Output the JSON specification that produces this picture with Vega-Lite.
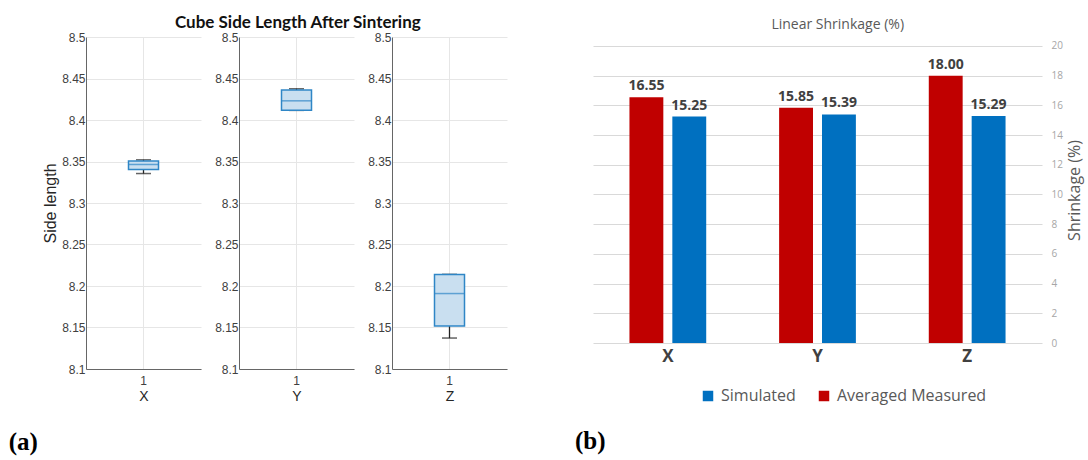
{
  "$schema": "https://vega.github.io/schema/vega-lite/v6.json",
  "background": "white",
  "padding": {"left": 8, "top": 14, "right": 3, "bottom": 2},
  "config": {"view": {"stroke": null}, "font": "Liberation Sans"},
  "datasets": {
    "box": [
      {"dir": "X", "n": "1", "lower": 8.3355, "q1": 8.3404, "median": 8.3464, "q3": 8.3505, "upper": 8.352},
      {"dir": "Y", "n": "1", "lower": 8.4116, "q1": 8.4116, "median": 8.4231, "q3": 8.436, "upper": 8.4376},
      {"dir": "Z", "n": "1", "lower": 8.1373, "q1": 8.1517, "median": 8.1909, "q3": 8.214, "upper": 8.214}
    ],
    "shrink": [
      {"dir": "X", "series": "Averaged Measured", "value": 16.55},
      {"dir": "X", "series": "Simulated", "value": 15.25},
      {"dir": "Y", "series": "Averaged Measured", "value": 15.85},
      {"dir": "Y", "series": "Simulated", "value": 15.39},
      {"dir": "Z", "series": "Averaged Measured", "value": 18.0},
      {"dir": "Z", "series": "Simulated", "value": 15.29}
    ]
  },
  "spacing": 68,
  "hconcat": [
    {
      "title": {"text": "(a)", "orient": "bottom", "anchor": "start", "font": "Liberation Serif", "fontSize": 25, "fontWeight": "bold", "color": "#000000", "dx": -34, "offset": 27},
      "hconcat": [
        {
          "title": {"text": "Cube Side Length After Sintering", "anchor": "middle", "font": "Lato", "fontSize": 17, "fontWeight": "bold", "color": "#111111", "offset": -1, "dx": 23},
          "spacing": 13,
          "hconcat": [
            {
              "width": 115, "height": 332,
              "data": {"name": "box"},
              "transform": [{"filter": "datum.dir === 'X'"}],
              "encoding": {
                "x": {"field": "n", "type": "nominal", "axis": {"title": "X", "labelAngle": 0, "labelFontSize": 12, "labelColor": "#404040", "labelPadding": 6, "titleFontSize": 14, "titleFontWeight": "normal", "titleColor": "#262626", "titlePadding": 3, "ticks": false, "grid": true, "gridColor": "#e6e6e6", "domainColor": "#666666"}}
              },
              "layer": [
                {"mark": {"type": "rule", "color": "#222222", "strokeWidth": 1.3}, "encoding": {"y": {"field": "lower", "type": "quantitative", "scale": {"domain": [8.1, 8.5], "nice": false, "zero": false}, "axis": {"title": "Side length", "values": [8.1, 8.15, 8.2, 8.25, 8.3, 8.35, 8.4, 8.45, 8.5], "format": "~g", "labelFontSize": 12, "labelColor": "#404040", "labelPadding": 1, "ticks": false, "grid": true, "gridColor": "#e6e6e6", "domainColor": "#666666", "titleFontSize": 16, "titleFontWeight": "normal", "titleColor": "#262626", "titlePadding": 3}}, "y2": {"field": "q1"}}},
                {"mark": {"type": "rule", "color": "#222222", "strokeWidth": 1.3}, "encoding": {"y": {"field": "q3", "type": "quantitative"}, "y2": {"field": "upper"}}},
                {"mark": {"type": "tick", "color": "#222222", "size": 15, "thickness": 1.5}, "encoding": {"y": {"field": "lower", "type": "quantitative"}}},
                {"mark": {"type": "tick", "color": "#222222", "size": 15, "thickness": 1.5}, "encoding": {"y": {"field": "upper", "type": "quantitative"}}},
                {"mark": {"type": "bar", "fill": "#c9dff0", "stroke": "#2f86c6", "strokeWidth": 1.5, "size": 30}, "encoding": {"y": {"field": "q1", "type": "quantitative"}, "y2": {"field": "q3"}}},
                {"mark": {"type": "tick", "color": "#2f86c6", "size": 30, "thickness": 1.5}, "encoding": {"y": {"field": "median", "type": "quantitative"}}}
              ]
            },
            {
              "width": 115, "height": 332,
              "data": {"name": "box"},
              "transform": [{"filter": "datum.dir === 'Y'"}],
              "encoding": {
                "x": {"field": "n", "type": "nominal", "axis": {"title": "Y", "labelAngle": 0, "labelFontSize": 12, "labelColor": "#404040", "labelPadding": 6, "titleFontSize": 14, "titleFontWeight": "normal", "titleColor": "#262626", "titlePadding": 3, "ticks": false, "grid": true, "gridColor": "#e6e6e6", "domainColor": "#666666"}}
              },
              "layer": [
                {"mark": {"type": "rule", "color": "#222222", "strokeWidth": 1.3}, "encoding": {"y": {"field": "lower", "type": "quantitative", "scale": {"domain": [8.1, 8.5], "nice": false, "zero": false}, "axis": {"title": null, "values": [8.1, 8.15, 8.2, 8.25, 8.3, 8.35, 8.4, 8.45, 8.5], "format": "~g", "labelFontSize": 12, "labelColor": "#404040", "labelPadding": 1, "ticks": false, "grid": true, "gridColor": "#e6e6e6", "domainColor": "#666666"}}, "y2": {"field": "q1"}}},
                {"mark": {"type": "rule", "color": "#222222", "strokeWidth": 1.3}, "encoding": {"y": {"field": "q3", "type": "quantitative"}, "y2": {"field": "upper"}}},
                {"mark": {"type": "tick", "color": "#222222", "size": 15, "thickness": 1.5}, "encoding": {"y": {"field": "lower", "type": "quantitative"}}},
                {"mark": {"type": "tick", "color": "#222222", "size": 15, "thickness": 1.5}, "encoding": {"y": {"field": "upper", "type": "quantitative"}}},
                {"mark": {"type": "bar", "fill": "#c9dff0", "stroke": "#2f86c6", "strokeWidth": 1.5, "size": 30}, "encoding": {"y": {"field": "q1", "type": "quantitative"}, "y2": {"field": "q3"}}},
                {"mark": {"type": "tick", "color": "#2f86c6", "size": 30, "thickness": 1.5}, "encoding": {"y": {"field": "median", "type": "quantitative"}}}
              ]
            },
            {
              "width": 115, "height": 332,
              "data": {"name": "box"},
              "transform": [{"filter": "datum.dir === 'Z'"}],
              "encoding": {
                "x": {"field": "n", "type": "nominal", "axis": {"title": "Z", "labelAngle": 0, "labelFontSize": 12, "labelColor": "#404040", "labelPadding": 6, "titleFontSize": 14, "titleFontWeight": "normal", "titleColor": "#262626", "titlePadding": 3, "ticks": false, "grid": true, "gridColor": "#e6e6e6", "domainColor": "#666666"}}
              },
              "layer": [
                {"mark": {"type": "rule", "color": "#222222", "strokeWidth": 1.3}, "encoding": {"y": {"field": "lower", "type": "quantitative", "scale": {"domain": [8.1, 8.5], "nice": false, "zero": false}, "axis": {"title": null, "values": [8.1, 8.15, 8.2, 8.25, 8.3, 8.35, 8.4, 8.45, 8.5], "format": "~g", "labelFontSize": 12, "labelColor": "#404040", "labelPadding": 1, "ticks": false, "grid": true, "gridColor": "#e6e6e6", "domainColor": "#666666"}}, "y2": {"field": "q1"}}},
                {"mark": {"type": "rule", "color": "#222222", "strokeWidth": 1.3}, "encoding": {"y": {"field": "q3", "type": "quantitative"}, "y2": {"field": "upper"}}},
                {"mark": {"type": "tick", "color": "#222222", "size": 15, "thickness": 1.5}, "encoding": {"y": {"field": "lower", "type": "quantitative"}}},
                {"mark": {"type": "tick", "color": "#222222", "size": 15, "thickness": 1.5}, "encoding": {"y": {"field": "upper", "type": "quantitative"}}},
                {"mark": {"type": "bar", "fill": "#c9dff0", "stroke": "#2f86c6", "strokeWidth": 1.5, "size": 30}, "encoding": {"y": {"field": "q1", "type": "quantitative"}, "y2": {"field": "q3"}}},
                {"mark": {"type": "tick", "color": "#2f86c6", "size": 30, "thickness": 1.5}, "encoding": {"y": {"field": "median", "type": "quantitative"}}}
              ]
            }
          ]
        }
      ]
    },
    {
      "title": {"text": "(b)", "orient": "bottom", "anchor": "start", "font": "Liberation Serif", "fontSize": 25, "fontWeight": "bold", "color": "#000000", "dx": -18, "offset": 65},
      "hconcat": [
        {
          "width": 449, "height": 306,
          "data": {"name": "shrink"},
          "title": {"text": "Linear Shrinkage (%)", "anchor": "middle", "frame": "bounds", "font": "Open Sans", "fontSize": 14, "fontWeight": "normal", "color": "#595959", "offset": 5},
          "encoding": {
            "x": {"field": "dir", "type": "nominal", "scale": {"paddingInner": 0, "paddingOuter": 0}, "axis": {"title": null, "labelAngle": 0, "domain": false, "ticks": false, "labelFont": "Open Sans", "labelFontSize": 17, "labelFontWeight": "bold", "labelColor": "#404040", "labelPadding": 5}},
            "xOffset": {"field": "series", "type": "nominal", "sort": ["Averaged Measured", "Simulated"], "scale": {"paddingInner": 0.21, "paddingOuter": 0.85}},
            "y": {"field": "value", "type": "quantitative", "scale": {"domain": [0, 20.606], "nice": false}, "axis": {"orient": "right", "values": [0, 2, 4, 6, 8, 10, 12, 14, 16, 18, 20], "domain": false, "ticks": false, "grid": true, "gridColor": "#d9d9d9", "labelFont": "Open Sans", "labelFontSize": 10, "labelColor": "#a6a6a6", "labelPadding": 9, "title": "Shrinkage (%)", "titleFont": "Open Sans", "titleFontSize": 16, "titleFontWeight": "normal", "titleColor": "#595959", "titleAngle": 270, "titleBaseline": "top", "titlePadding": 4}}
          },
          "layer": [
            {
              "mark": {"type": "bar"},
              "encoding": {
                "color": {"field": "series", "type": "nominal", "scale": {"domain": ["Simulated", "Averaged Measured"], "range": ["#0070C0", "#C00000"]}, "legend": {"orient": "none", "legendX": 614, "legendY": 351, "direction": "horizontal", "title": null, "symbolType": "square", "symbolSize": 110, "symbolStrokeWidth": 0, "labelFont": "Open Sans", "labelFontSize": 16, "labelColor": "#595959", "columnPadding": 20, "labelOffset": 5}}
              }
            },
            {
              "mark": {"type": "text", "baseline": "alphabetic", "dy": -7, "font": "Open Sans", "fontSize": 14, "fontWeight": "bold", "color": "#404040"},
              "encoding": {"text": {"field": "value", "type": "quantitative", "format": ".2f"}}
            }
          ]
        }
      ]
    }
  ]
}
